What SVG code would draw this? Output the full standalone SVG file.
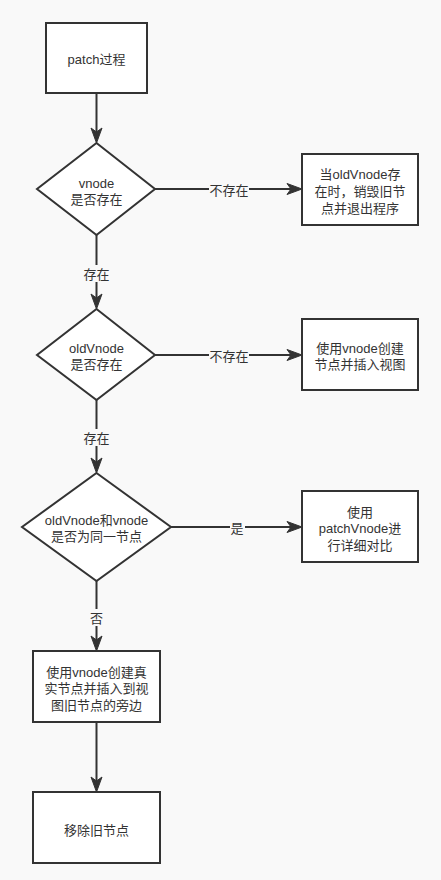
<svg xmlns="http://www.w3.org/2000/svg" width="441" height="880" viewBox="0 0 441 880">
<style>
.shape{fill:#ffffff;stroke:#333333;stroke-width:2}
.edge{fill:none;stroke:#333333;stroke-width:2}
.t{font-family:"Liberation Sans","Noto Sans CJK SC",sans-serif;font-size:13px;fill:#333333;text-anchor:middle}
.lblbg{fill:#f9f9f9}
</style>
<defs>
<marker id="arr" markerUnits="userSpaceOnUse" viewBox="-16 -7 17 14" markerWidth="17" markerHeight="14" refX="-8" refY="0" orient="auto">
<path d="M0,0 L-15,-5.5 L-11,0 L-15,5.5 Z" fill="#333333" stroke="#333333" stroke-width="1" stroke-linejoin="miter"/>
</marker>
</defs>
<rect x="0" y="0" width="441" height="880" fill="#f9f9f9"/>

<g id="connectors">
<path class="edge" d="M96.5,93 V135" marker-end="url(#arr)"/>
<path class="edge" d="M96.5,235 V301" marker-end="url(#arr)"/>
<path class="edge" d="M155,189 H294" marker-end="url(#arr)"/>
<path class="edge" d="M155,355 H294" marker-end="url(#arr)"/>
<path class="edge" d="M96.5,400 V465" marker-end="url(#arr)"/>
<path class="edge" d="M171,527 H294" marker-end="url(#arr)"/>
<path class="edge" d="M96.5,581 V643" marker-end="url(#arr)"/>
<path class="edge" d="M96.5,722 V784" marker-end="url(#arr)"/>
<rect class="lblbg" x="83" y="265" width="27" height="17"/>
<text class="t" x="96.5" y="278.5">存在</text>
<rect class="lblbg" x="209" y="181" width="40" height="17"/>
<text class="t" x="229" y="194.5">不存在</text>
<rect class="lblbg" x="209" y="347" width="40" height="17"/>
<text class="t" x="229" y="360.5">不存在</text>
<rect class="lblbg" x="83" y="429" width="27" height="17"/>
<text class="t" x="96.5" y="442.5">存在</text>
<rect class="lblbg" x="230" y="519" width="15" height="17"/>
<text class="t" x="237" y="532.5">是</text>
<rect class="lblbg" x="89" y="609" width="15" height="17"/>
<text class="t" x="96.5" y="622.5">否</text>
</g>

<g id="node-patch">
<rect class="shape" x="46" y="23" width="101" height="70"/>
<text class="t" x="96.5" y="63.5">patch过程</text>
</g>

<g id="node-vnode-exists">
<path class="shape" d="M96.5,143 L155,189 L96.5,235 L37,189 Z"/>
<text class="t" x="96.5" y="187.5">vnode<tspan x="96.5" dy="16">是否存在</tspan></text>
</g>

<g id="node-destroy-old">
<rect class="shape" x="302" y="154" width="116" height="71"/>
<text class="t" x="360" y="178.5">当oldVnode存<tspan x="360" dy="17">在时，销毁旧节</tspan><tspan x="360" dy="17">点并退出程序</tspan></text>
</g>

<g id="node-oldvnode-exists">
<path class="shape" d="M96.5,309 L155,355 L96.5,400 L37,355 Z"/>
<text class="t" x="96.5" y="352.5">oldVnode<tspan x="96.5" dy="16">是否存在</tspan></text>
</g>

<g id="node-create-insert">
<rect class="shape" x="302" y="319" width="116" height="71"/>
<text class="t" x="360" y="352.5">使用vnode创建<tspan x="360" dy="16">节点并插入视图</tspan></text>
</g>

<g id="node-same-node">
<path class="shape" d="M96.5,473 L171,527 L96.5,581 L22,527 Z"/>
<text class="t" x="96.5" y="524.5">oldVnode和vnode<tspan x="96.5" dy="16">是否为同一节点</tspan></text>
</g>

<g id="node-patchvnode">
<rect class="shape" x="302" y="491" width="116" height="71"/>
<text class="t" x="360" y="516.5">使用<tspan x="360" dy="16">patchVnode进</tspan><tspan x="360" dy="17">行详细对比</tspan></text>
</g>

<g id="node-create-real">
<rect class="shape" x="33" y="651" width="127" height="71"/>
<text class="t" x="96.5" y="676.5">使用vnode创建真<tspan x="96.5" dy="16">实节点并插入到视</tspan><tspan x="96.5" dy="17">图旧节点的旁边</tspan></text>
</g>

<g id="node-remove-old">
<rect class="shape" x="33" y="792" width="127" height="71"/>
<text class="t" x="96.5" y="834.5">移除旧节点</text>
</g>
</svg>
